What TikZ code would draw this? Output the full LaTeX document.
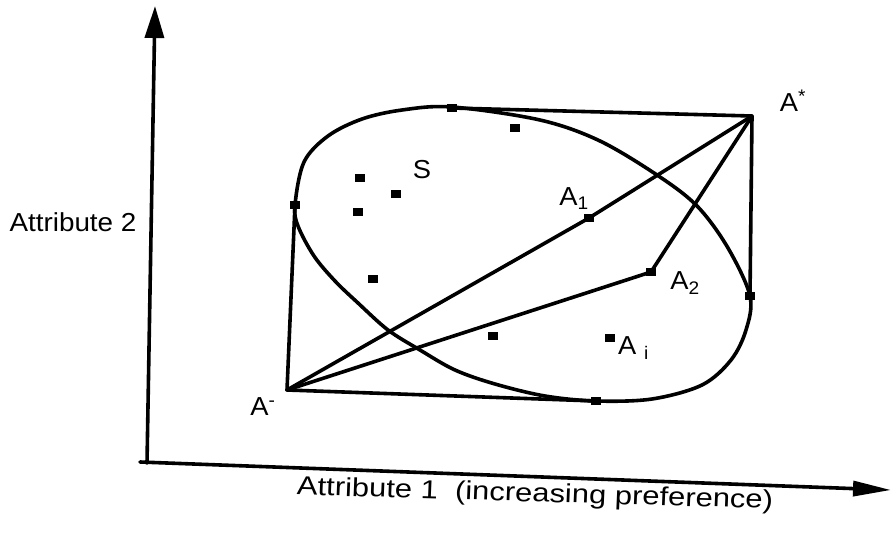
\documentclass[tikz,border=0pt]{standalone}
\usepackage{fontspec}
\setmainfont{Liberation Sans}
\usetikzlibrary{arrows.meta}
\begin{document}
\begin{tikzpicture}[x=1pt,y=-1pt,
  ln/.style={line width=3.6pt, line cap=round, line join=round},
  mk/.style={rectangle, fill=black, inner sep=0pt, minimum width=10pt, minimum height=8pt},
  lbl/.style={inner sep=0pt, font=\fontsize{26}{30}\selectfont, xscale=1.05},
  axlbl/.style={inner sep=0pt, font=\fontsize{26}{30}\selectfont}]
\useasboundingbox (0,0) rectangle (892,538);
% axes
\coordinate (O) at (147,463);
\coordinate (Ytop) at (155,6);
\coordinate (Xstart) at (140,462);
\coordinate (Xend) at (891,490);
\draw[ln, -{Triangle[length=32pt,width=19pt]}] (O) -- (Ytop);
\draw[ln, -{Triangle[length=38pt,width=15pt]}] (Xstart) -- (Xend);
% feasible region curve
\draw[ln] plot[smooth cycle, tension=0.55] coordinates {
 (295,205) (304,162) (328,136) (362,119) (402,110) (452,107)
 (540,120) (600,141) (660,177) (698,207) (728,248) (750,296)
 (746,330) (731,360) (702,385) (652,399) (596,401) (545,396)
 (495,384) (455,370) (420,350) (388,330) (358,303) (335,281)
 (314,256) (298,226)};
% markers
\node[mk] (mtop) at (452,108) {};
\node[mk] (mleft) at (295,205) {};
\node[mk] (mright) at (750,296) {};
\node[mk] (mbot) at (596,401) {};
\node[mk] (mA1) at (589,218) {};
\node[mk] (mA2) at (651,272) {};
\node[mk] (mAi) at (610,338) {};
\node[mk] (m1) at (515,128) {};
\node[mk] (m2) at (360,178) {};
\node[mk] (m3) at (396,194) {};
\node[mk] (m4) at (358,212) {};
\node[mk] (m5) at (373,279) {};
\node[mk] (m6) at (493,336) {};
\coordinate (Astar) at (752,116);
\coordinate (Aminus) at (287,390);
% rectangle and lines
\draw[ln] (mtop.center) -- (Astar) -- (mright.center);
\draw[ln] (mleft.center) -- (Aminus) -- (mbot.center);
\draw[ln] (Aminus) -- (mA1.center) -- (Astar);
\draw[ln] (Aminus) -- (mA2.center) -- (Astar);
% labels
\node[lbl] (lS) at (422,170) {S};
\node[lbl] (lA1) at (574,199) {A\textsubscript{1}};
\node[lbl] (lA2) at (685,283) {A\textsubscript{2}};
\node[lbl, anchor=west] (lAi) at (618,348) {A \textsubscript{i}};
\node[lbl] (lAs) at (793,101) {A\textsuperscript{*}};
\node[lbl] (lAm) at (263,407) {A\textsuperscript{-}};
\node[axlbl, xscale=1.07] (lY) at (73,222) {Attribute 2};
\node[axlbl, xscale=1.19, rotate=-2] (lX) at (535,495) {Attribute 1\ \ (increasing preference)};
\end{tikzpicture}
\end{document}
